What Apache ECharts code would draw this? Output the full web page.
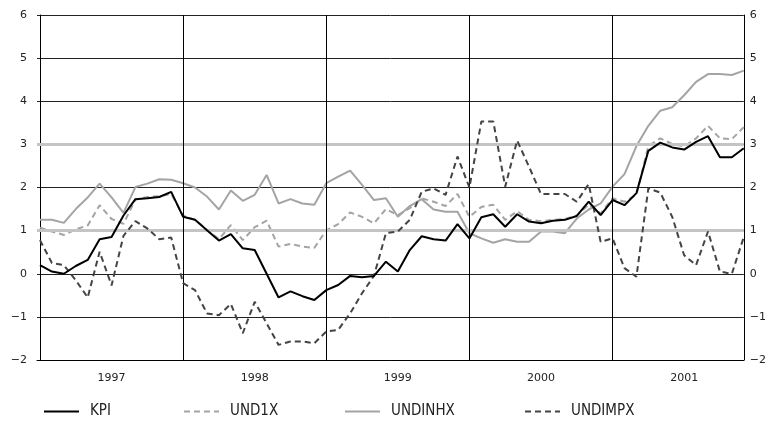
<!DOCTYPE html>
<html>
<head>
<meta charset="utf-8">
<script src="https://cdn.jsdelivr.net/npm/echarts@6/dist/echarts.min.js"></script>
<style>html,body{margin:0;padding:0;background:#fff;}#c{width:769px;height:433px;}</style>
</head>
<body>
<div id="c"></div>
<script>
// Monthly data, Jan 1997 - Dec 2001 (index 0..59)
const yearLabels = ['1997','1998','1999','2000','2001'];
const yearStarts = [12, 24, 36, 48];
const yearMids = [6, 18, 30, 42, 54];
const bandLevels = [1, 3];

const kpi = [0.2,0.05,0.0,0.18,0.32,0.8,0.85,1.35,1.73,1.75,1.78,1.9,
 1.32,1.25,1.01,0.77,0.92,0.59,0.55,0.0,-0.55,-0.41,-0.52,-0.61,
 -0.38,-0.26,-0.05,-0.08,-0.05,0.28,0.05,0.55,0.87,0.8,0.77,1.15,
 0.82,1.31,1.38,1.09,1.38,1.21,1.17,1.23,1.25,1.34,1.67,1.36,
 1.71,1.59,1.87,2.85,3.04,2.93,2.88,3.06,3.19,2.7,2.7,2.91];

const und1x = [1.07,0.98,0.9,1.03,1.12,1.59,1.27,1.16,1.72,1.78,1.8,1.85,
 1.35,1.25,1.02,0.8,1.13,0.78,1.08,1.23,0.63,0.69,0.63,0.6,
 1.01,1.15,1.42,1.32,1.17,1.5,1.36,1.52,1.75,1.67,1.57,1.85,
 1.32,1.55,1.6,1.25,1.45,1.25,1.22,1.25,1.27,1.35,1.6,1.4,
 1.75,1.67,1.83,2.96,3.14,3.01,2.95,3.14,3.43,3.14,3.12,3.4];

const undinhx = [1.25,1.25,1.18,1.5,1.77,2.09,1.77,1.41,2.01,2.09,2.19,2.18,
 2.1,2.0,1.79,1.49,1.93,1.69,1.83,2.29,1.63,1.73,1.63,1.6,
 2.1,2.25,2.39,2.06,1.71,1.75,1.32,1.57,1.73,1.49,1.44,1.44,
 0.94,0.82,0.72,0.8,0.74,0.74,0.98,0.98,0.94,1.28,1.49,1.63,
 2.02,2.31,2.96,3.43,3.78,3.86,4.14,4.45,4.63,4.63,4.61,4.71];

const undimpx = [0.78,0.25,0.2,-0.15,-0.55,0.51,-0.27,0.88,1.22,1.05,0.8,0.84,
 -0.22,-0.38,-0.92,-0.96,-0.7,-1.38,-0.65,-1.15,-1.65,-1.57,-1.57,-1.61,
 -1.34,-1.3,-0.92,-0.45,-0.05,0.94,0.98,1.25,1.9,1.98,1.83,2.72,
 2.0,3.53,3.53,2.02,3.09,2.48,1.85,1.85,1.85,1.67,2.08,0.74,
 0.82,0.13,-0.07,1.98,1.88,1.32,0.43,0.2,0.98,0.05,0.0,0.85];

const toXY = arr => arr.map((v, i) => [i, v]);
const minus = v => String(v).replace('-', '\u2212');

const chart = echarts.init(document.getElementById('c'), null, {renderer: 'canvas'});
const FONT = 'DejaVu Sans';
const LFONT = '"DejaVu Sans Condensed", "Liberation Sans Narrow", "DejaVu Sans", sans-serif';

function legendAt(name, left) {
  return {
    data: [name], left: left, top: 399, itemWidth: 35, itemHeight: 10, orient: 'horizontal',
    itemStyle: {opacity: 0, borderWidth: 0},
    textStyle: {fontFamily: LFONT, fontSize: 15, color: '#222', padding: [0, 0, 0, 6]},
    selectedMode: false
  };
}

const option = {
  animation: false,
  backgroundColor: '#fff',
  grid: {left: 37, right: 23, top: 15, bottom: 73, containLabel: false},
  legend: [
    legendAt('KPI', 38),
    legendAt('UND1X', 178),
    legendAt('UNDINHX', 339),
    legendAt('UNDIMPX', 519)
  ],
  xAxis: {
    type: 'value', min: -0.25, max: 59,
    axisLine: {show: true, onZero: false, lineStyle: {color: '#000', width: 1}},
    axisTick: {show: false},
    splitLine: {show: false},
    axisLabel: {
      customValues: yearMids,
      formatter: v => yearLabels[Math.round((v - 6) / 12)],
      margin: 13, fontFamily: FONT, fontSize: 11, color: '#222'
    }
  },
  yAxis: [
    {
      type: 'value', min: -2, max: 6, interval: 1, position: 'left',
      axisLine: {show: true, lineStyle: {color: '#000', width: 1}},
      axisTick: {show: false},
      splitLine: {show: true, lineStyle: {color: '#222', width: 1}},
      axisLabel: {formatter: minus, margin: 10, fontFamily: FONT, fontSize: 11, color: '#222'}
    },
    {
      type: 'value', min: -2, max: 6, interval: 1, position: 'right',
      axisLine: {show: true, lineStyle: {color: '#000', width: 1}},
      axisTick: {show: false},
      splitLine: {show: false},
      axisLabel: {formatter: minus, margin: 6, fontFamily: FONT, fontSize: 11, color: '#222'}
    }
  ],
  series: [
    {
      name: 'refs', type: 'line', data: [], silent: true, z: 1, symbol: 'none',
      markLine: {
        silent: true, symbol: ['none', 'none'], label: {show: false}, animation: false,
        data: [
          ...bandLevels.map(v => ({yAxis: v, lineStyle: {color: '#c4c4c4', width: 3, type: 'solid'}})),
          ...yearStarts.map(v => ({xAxis: v, lineStyle: {color: '#000', width: 1, type: 'solid'}}))
        ]
      }
    },
    {
      name: 'UNDINHX', type: 'line', data: toXY(undinhx), symbol: 'none', z: 3,
      lineStyle: {color: '#a4a4a4', width: 2}, itemStyle: {color: '#a4a4a4'}
    },
    {
      name: 'UND1X', type: 'line', data: toXY(und1x), symbol: 'none', z: 4,
      lineStyle: {color: '#a4a4a4', width: 2, type: [6, 4]}, itemStyle: {color: '#a4a4a4'}
    },
    {
      name: 'UNDIMPX', type: 'line', data: toXY(undimpx), symbol: 'none', z: 5,
      lineStyle: {color: '#444', width: 2, type: [6, 4]}, itemStyle: {color: '#444'}
    },
    {
      name: 'KPI', type: 'line', data: toXY(kpi), symbol: 'none', z: 6,
      lineStyle: {color: '#000', width: 2}, itemStyle: {color: '#000'}
    }
  ]
};
chart.setOption(option);
</script>
</body>
</html>
